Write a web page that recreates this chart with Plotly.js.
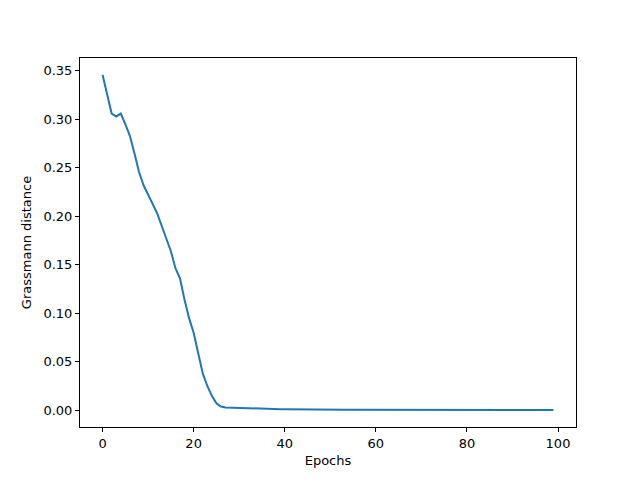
<!DOCTYPE html>
<html>
<head>
<meta charset="utf-8">
<script src="https://cdn.plot.ly/plotly-3.0.1.min.js"></script>
<style>
  html, body { margin: 0; padding: 0; background: white; }
  #chart { width: 640px; height: 480px; }
</style>
</head>
<body>
<div id="chart"></div>
<script>
// Grassmann distance per epoch
const distanceHead = [
    0.346, 0.326, 0.306, 0.303, 0.306, 0.295, 0.283, 0.265, 0.246, 0.232,
    0.222, 0.213, 0.203, 0.190, 0.176, 0.164, 0.1465, 0.136, 0.114, 0.095,
    0.080, 0.059, 0.038, 0.025, 0.0148, 0.0072, 0.0038, 0.0028, 0.0026, 0.0025,
    0.0023, 0.0021, 0.0020, 0.0019, 0.0018, 0.0016, 0.0014, 0.0013, 0.0012, 0.0011,
    0.0010, 0.0009, 0.0009, 0.0008, 0.0008, 0.0007, 0.0007, 0.0007, 0.0006, 0.0006
];
const distanceTail = [
    0.0006, 0.0005, 0.0005, 0.0005, 0.0005, 0.0005, 0.0004, 0.0004, 0.0004, 0.0004,
    0.0004, 0.0004, 0.0004, 0.0004, 0.0003, 0.0003, 0.0003, 0.0003, 0.0003, 0.0003,
    0.0003, 0.0003, 0.0003, 0.0003, 0.0003, 0.0003, 0.0003, 0.0003, 0.0003, 0.0003,
    0.0003, 0.0003, 0.0003, 0.0003, 0.0003, 0.0003, 0.0003, 0.0003, 0.0003, 0.0003,
    0.0003, 0.0003, 0.0003, 0.0003, 0.0003, 0.0003, 0.0003, 0.0003, 0.0003, 0.0003
];
const distance = distanceHead.concat(distanceTail);
const epochs = distance.map((_, i) => i);

const xTicks = [0, 20, 40, 60, 80, 100];
const yTicks = [0.00, 0.05, 0.10, 0.15, 0.20, 0.25, 0.30, 0.35];

const font = { family: 'DejaVu Sans, sans-serif', size: 13, color: 'black' };

const trace = {
    x: epochs,
    y: distance,
    type: 'scatter',
    mode: 'lines',
    line: { color: '#1f77b4', width: 2 },
    hoverinfo: 'x+y'
};

const axisCommon = {
    showgrid: false,
    zeroline: false,
    showline: true,
    mirror: true,
    linecolor: 'black',
    linewidth: 1,
    ticks: 'outside',
    ticklen: 4,
    tickwidth: 1,
    tickcolor: 'black',
    tickfont: font
};

const layout = {
    width: 640,
    height: 480,
    margin: { l: 80, r: 64, t: 58, b: 53 },
    paper_bgcolor: 'white',
    plot_bgcolor: 'white',
    font: font,
    showlegend: false,
    xaxis: {
        ...axisCommon,
        range: [-4.95, 103.95],
        tickvals: xTicks,
        ticktext: xTicks.map(String),
        title: { text: 'Epochs', font: font, standoff: 6 }
    },
    yaxis: {
        ...axisCommon,
        range: [-0.0173, 0.3633],
        tickvals: yTicks,
        ticktext: yTicks.map(v => v.toFixed(2)),
        title: { text: 'Grassmann distance', font: font, standoff: 8 }
    }
};

Plotly.newPlot('chart', [trace], layout, { displayModeBar: false, staticPlot: true });
</script>
</body>
</html>
